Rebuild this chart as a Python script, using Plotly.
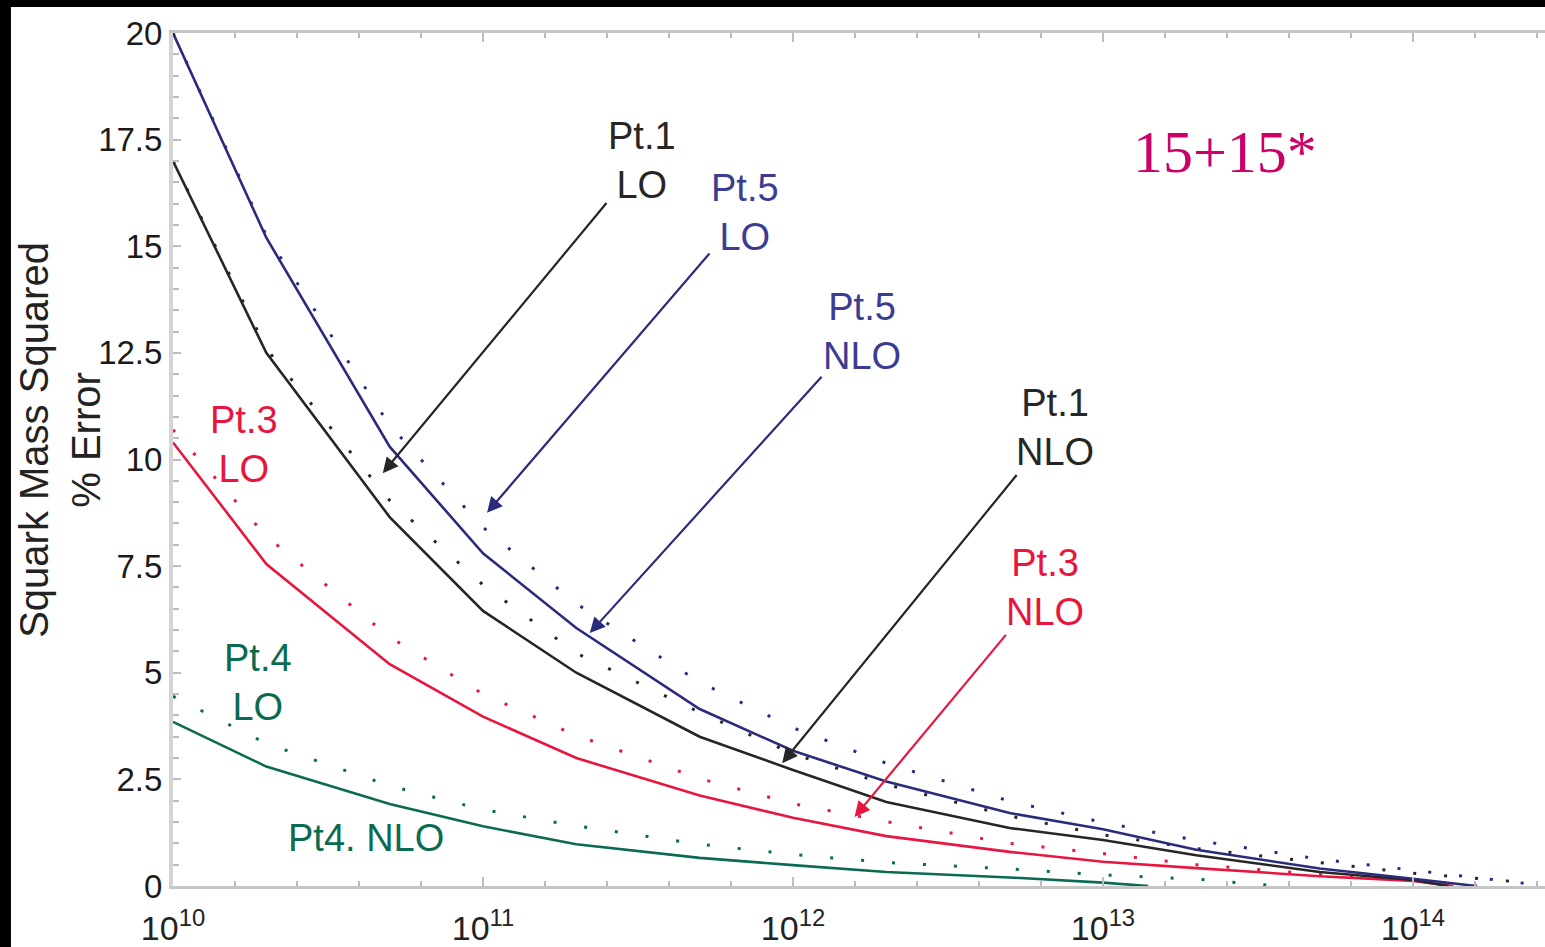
import numpy as np
import plotly.graph_objects as go

# ---- data: squark mass-squared % error vs. x (log scale) ----
# Pt.5 (blue)
pt5_nlo_x = [1e10, 2e10, 5e10, 1e11, 2e11, 5e11, 1e12, 2e12, 5e12, 1e13, 2e13, 5e13, 1e14, 1.6e14]
pt5_nlo_y = [20.0, 15.2, 10.3, 7.8, 6.05, 4.15, 3.17, 2.45, 1.71, 1.33, 0.85, 0.41, 0.17, 0.0]
pt5_lo_x = [1e10, 2e10, 5e10, 1e11, 2e11, 5e11, 1e12, 2e12, 5e12, 1e13, 2e13, 5e13, 1e14, 2e14, 2.5e14]
pt5_lo_y = [20.0, 15.25, 10.8, 8.41, 6.62, 4.78, 3.71, 2.88, 1.99, 1.49, 1.07, 0.63, 0.37, 0.10, 0.03]

# Pt.1 (black)
pt1_nlo_x = [1e10, 2e10, 5e10, 1e11, 2e11, 5e11, 1e12, 2e12, 5e12, 1e13, 2e13, 5e13, 1e14, 1.3e14]
pt1_nlo_y = [17.0, 12.5, 8.65, 6.45, 5.0, 3.5, 2.72, 1.97, 1.36, 1.08, 0.72, 0.33, 0.14, 0.0]
pt1_lo_x = [1e10, 2e10, 5e10, 1e11, 2e11, 5e11, 1e12, 2e12, 5e12, 1e13, 2e13, 5e13, 1e14, 2e14, 2.5e14]
pt1_lo_y = [17.0, 12.6, 9.04, 7.06, 5.46, 4.07, 3.10, 2.38, 1.64, 1.2, 0.88, 0.54, 0.30, 0.12, 0.05]

# Pt.3 (red)
pt3_nlo_x = [1e10, 2e10, 5e10, 1e11, 2e11, 5e11, 1e12, 2e12, 5e12, 1e13, 2e13, 5e13, 1e14, 1.35e14]
pt3_nlo_y = [10.4, 7.55, 5.2, 3.97, 3.0, 2.12, 1.6, 1.17, 0.8, 0.57, 0.42, 0.23, 0.12, 0.0]
pt3_lo_x = [1e10, 2e10, 5e10, 1e11, 2e11, 5e11, 1e12, 2e12, 5e12, 1e13, 2e13, 5e13, 1e14, 1.7e14]
pt3_lo_y = [10.7, 8.2, 5.84, 4.5, 3.53, 2.52, 1.93, 1.51, 1.0, 0.76, 0.50, 0.27, 0.13, 0.0]

# Pt.4 (green)
pt4_nlo_x = [1e10, 2e10, 5e10, 1e11, 2e11, 5e11, 1e12, 2e12, 5e12, 1e13, 1.4e13]
pt4_nlo_y = [3.85, 2.8, 1.92, 1.4, 0.98, 0.66, 0.49, 0.33, 0.2, 0.08, 0.0]
pt4_lo_x = [1e10, 2e10, 5e10, 1e11, 2e11, 5e11, 1e12, 2e12, 5e12, 1e13, 2e13, 3.7e13]
pt4_lo_y = [4.45, 3.34, 2.35, 1.79, 1.41, 0.98, 0.74, 0.55, 0.40, 0.26, 0.16, 0.0]

# axis ticks
x_decades = [10, 11, 12, 13, 14]
x_tick_text = ["10<sup>%d</sup>" % d for d in x_decades]
y_ticks = [0, 2.5, 5, 7.5, 10, 12.5, 15, 17.5, 20]
y_tick_text = ["0", "2.5", "5", "7.5", "10", "12.5", "15", "17.5", "20"]

BLUE = "#2b2b7e"
BLACK = "#262626"
RED = "#e8163e"
GREEN = "#0b6a52"
LABEL_BLUE = "#3c3c92"

FONT = "Liberation Sans, Arial, Helvetica, sans-serif"
DOTS = "3px,28px"
X_RANGE = [10, 14.426]

series = [
    ("Pt.4 NLO", pt4_nlo_x, pt4_nlo_y, GREEN, "solid"),
    ("Pt.4 LO", pt4_lo_x, pt4_lo_y, GREEN, DOTS),
    ("Pt.3 NLO", pt3_nlo_x, pt3_nlo_y, RED, "solid"),
    ("Pt.3 LO", pt3_lo_x, pt3_lo_y, RED, DOTS),
    ("Pt.1 NLO", pt1_nlo_x, pt1_nlo_y, BLACK, "solid"),
    ("Pt.1 LO", pt1_lo_x, pt1_lo_y, BLACK, DOTS),
    ("Pt.5 NLO", pt5_nlo_x, pt5_nlo_y, BLUE, "solid"),
    ("Pt.5 LO", pt5_lo_x, pt5_lo_y, BLUE, DOTS),
]

fig = go.Figure()
for name, xs, ys, color, dash in series:
    fig.add_trace(go.Scatter(
        x=xs, y=ys, mode="lines", name=name,
        line=dict(color=color, width=2.6 if dash == "solid" else 3, dash=dash),
        showlegend=False, hoverinfo="skip",
    ))

# empty trace that attaches the companion tick axis to the plot
fig.add_trace(go.Scatter(x=[], y=[], xaxis="x2", yaxis="y", mode="lines",
                         showlegend=False, hoverinfo="skip"))

annotations = []

# ---- labels with arrows: text, label centre (decade, %), arrow tip (x, %) ----
arrow_labels = [
    ("Pt.1<br>LO", 11.513, 17.02, 4.75e10, 9.68, BLACK, BLACK),
    ("Pt.5<br>LO", 11.845, 15.80, 1.03e11, 8.75, LABEL_BLUE, BLUE),
    ("Pt.5<br>NLO", 12.223, 12.99, 2.21e11, 5.93, LABEL_BLUE, BLUE),
    ("Pt.1<br>NLO", 12.845, 10.74, 9.23e11, 2.88, BLACK, BLACK),
    ("Pt.3<br>NLO", 12.813, 6.99, 1.58e12, 1.62, RED, RED),
]
for text, lx, ly, tx, ty, tcolor, acolor in arrow_labels:
    annotations.append(dict(
        x=np.log10(tx), y=ty, ax=lx, ay=ly,
        xref="x", yref="y", axref="x", ayref="y",
        text=text, align="center",
        font=dict(family=FONT, size=38, color=tcolor),
        showarrow=True, arrowhead=2, arrowsize=1.4, arrowwidth=2.2,
        arrowcolor=acolor, standoff=0, startstandoff=0,
    ))

# ---- plain labels ----
labels = [
    ("Pt.3<br>LO", 10.229, 10.36, RED),
    ("Pt.4<br>LO", 10.274, 4.78, GREEN),
    ("Pt4. NLO", 10.623, 1.13, GREEN),
]
for text, lx, ly, color in labels:
    annotations.append(dict(
        x=lx, y=ly, xref="x", yref="y", text=text, showarrow=False,
        align="center", xanchor="center", yanchor="middle",
        font=dict(family=FONT, size=38, color=color),
    ))

# scenario tag
annotations.append(dict(
    x=13.394, y=17.21, xref="x", yref="y", text="15+15*", showarrow=False,
    xanchor="center", yanchor="middle",
    font=dict(family="Liberation Serif, Times New Roman, serif", size=60, color="#cc0066"),
))

# y-axis title
annotations.append(dict(
    x=-0.0824, y=0.523, xref="paper", yref="paper",
    text="Squark Mass Squared<br>% Error", showarrow=False, textangle=-90,
    xanchor="center", yanchor="middle", align="center",
    font=dict(family=FONT, size=40, color="#222222"),
))

AXIS_GREY = "#c6c6c6"
TICK_GREY = "#bdbdbd"

fig.update_layout(
    width=1545, height=947, autosize=False,
    margin=dict(l=173, r=0, t=33, b=61, pad=0),
    paper_bgcolor="white", plot_bgcolor="white",
    annotations=annotations,
    xaxis=dict(
        type="log", range=X_RANGE, automargin=False,
        tickvals=[10 ** d for d in x_decades], ticktext=x_tick_text,
        showgrid=False, zeroline=False,
        showline=True, linecolor=AXIS_GREY, linewidth=3, mirror="ticks",
        ticks="inside", ticklen=9, tickwidth=2, tickcolor=TICK_GREY,
        tickfont=dict(family=FONT, size=34, color="#222222"),
        ticklabelstandoff=10,
    ),
    # linear companion axis in decades, used only for the fifth-of-a-decade ticks
    xaxis2=dict(
        overlaying="x", anchor="y", side="bottom", range=X_RANGE,
        automargin=False,
        tick0=10, dtick=0.2, ticks="inside", ticklen=5, tickwidth=2,
        tickcolor=TICK_GREY, showticklabels=False, showgrid=False,
        zeroline=False, showline=False, mirror="ticks",
    ),
    yaxis=dict(
        range=[0, 20], tickvals=y_ticks, ticktext=y_tick_text, automargin=False,
        showgrid=False, zeroline=False,
        showline=True, linecolor="#d4d4d4", linewidth=4, mirror=False,
        ticks="inside", ticklen=8, tickwidth=2, tickcolor=TICK_GREY,
        minor=dict(dtick=0.5, ticks="inside", ticklen=6, tickwidth=2,
                   tickcolor=TICK_GREY, showgrid=False),
        tickfont=dict(family=FONT, size=33, color="#1a1a1a"),
    ),
    shapes=[
        dict(type="rect", xref="paper", yref="paper",
             x0=-0.1261, x1=-0.1181, y0=-0.0715, y1=1.0387,
             fillcolor="black", line=dict(width=0), layer="above"),
        dict(type="rect", xref="paper", yref="paper",
             x0=-0.1261, x1=1.0, y0=1.0305, y1=1.0387,
             fillcolor="black", line=dict(width=0), layer="above"),
    ],
)

fig.write_html("out.html")
